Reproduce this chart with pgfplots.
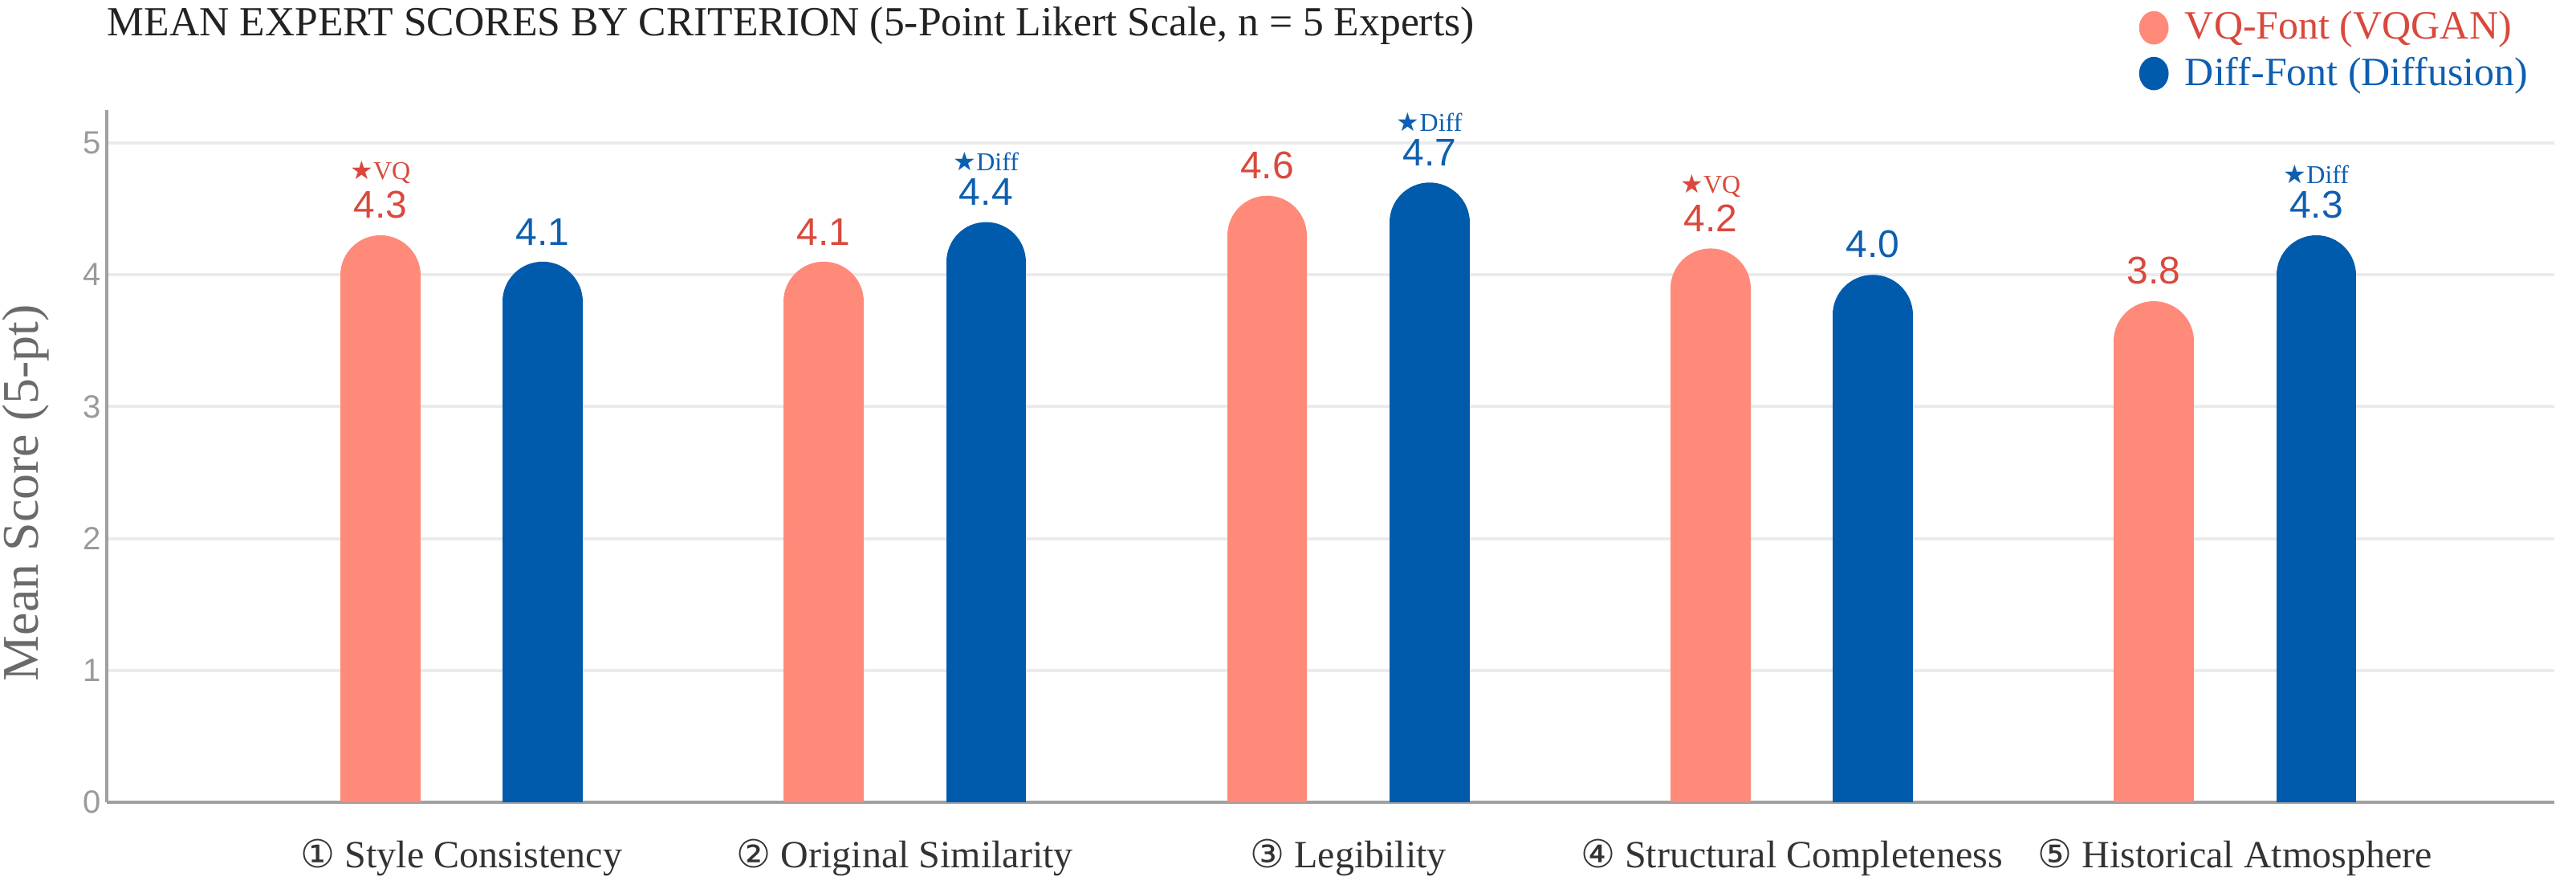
\documentclass[border=0pt]{standalone}
\usepackage{fontspec}
\setmainfont{Liberation Serif}
\newfontfamily\numfont{Liberation Sans}
\newfontfamily\symfont{DejaVu Sans}
\usepackage{pgfplots}
\pgfplotsset{compat=1.18}
\usepackage{pgfplotstable}

\definecolor{vqbar}{HTML}{FF8A7A}
\definecolor{diffbar}{HTML}{005BAC}
\definecolor{vqtext}{HTML}{D9493D}
\definecolor{difftext}{HTML}{0E5FB0}
\definecolor{gridgray}{HTML}{EBEBEB}
\definecolor{axisgray}{HTML}{A0A0A0}
\definecolor{tickgray}{HTML}{9A9A9A}
\definecolor{ylabgray}{HTML}{6A6A6A}
\definecolor{labelgray}{HTML}{333333}
\definecolor{titlegray}{HTML}{222222}

% mean expert scores per criterion
\pgfplotstableread{
x vq diff
0 4.3 4.1
1 4.1 4.4
2 4.6 4.7
3 4.2 4.0
4 3.8 4.3
}\scores

\newcommand{\circled}[1]{{\symfont #1}}

\pgfplotsset{
  % bars: one thick stroke per value with a round cap; the stroke is lowered
  % by half its width, so the cap ends exactly at the value and the lower cap
  % falls outside the clipped plot area
  round bar/.style={ycomb, draw=#1, line width=24.9pt, line cap=round,
    yshift=-12.45pt, forget plot},
  dot legend/.style={legend image code/.code={%
    \fill[#1] (0pt,0pt) ellipse (4.4pt and 5pt);
    \path (-4.4pt,0pt) (7.5pt,0pt);}},
  value label/.style={draw=none, mark=none, forget plot,
    nodes near coords={\pgfmathprintnumber[fixed,fixed zerofill,precision=1]{\pgfplotspointmeta}},
    nodes near coords style={text=#1, font=\numfont\fontsize{12}{13}\selectfont,
      anchor=south, inner sep=1pt, yshift=4pt}},
  star label/.style 2 args={draw=none, mark=none, forget plot,
    nodes near coords={{\symfont ★}#2},
    nodes near coords style={text=#1, font=\fontsize{8}{9}\selectfont,
      anchor=south, inner sep=1pt, yshift=14.8pt}},
}

\begin{document}
\begin{tikzpicture}
\useasboundingbox (-33.25pt,-28.25pt) rectangle (769pt,249.75pt);
\begin{axis}[
  at={(0,0)}, anchor=south west,
  scale only axis, width=762.25pt, height=215.5pt,
  xmin=-0.8, xmax=4.72, ymin=0, ymax=5.25,
  xtick={0,1,2,3,4},
  xticklabels={\circled{①} Style Consistency, \circled{②} Original Similarity, \circled{③} Legibility, \circled{④} Structural Completeness, \circled{⑤} Historical Atmosphere},
  ytick={0,1,2,3,4,5},
  major tick length=0pt,
  axis x line*=bottom, axis y line*=left,
  axis line style={axisgray, line width=1.1pt, -},
  ymajorgrids, grid style={gridgray, line width=1pt},
  /pgf/number format/assume math mode=true,
  yticklabel style={text=tickgray, font=\numfont\fontsize{10}{12}\selectfont, inner sep=1.5pt},
  xticklabel style={text=labelgray, font=\fontsize{12}{14}\selectfont, yshift=-8pt},
  ylabel={Mean Score (5-pt)},
  ylabel style={text=ylabgray, font=\fontsize{16}{18}\selectfont,
    at={(axis description cs:-0.033,0.447)}, anchor=center},
  title={MEAN EXPERT SCORES BY CRITERION (5-Point Likert Scale, n = 5 Experts)},
  title style={at={(0,1)}, anchor=base west, yshift=17pt, inner sep=0pt, text=titlegray,
    font=\fontsize{12.9}{15}\selectfont},
  legend style={at={(1,1)}, anchor=south east, xshift=-4pt, yshift=2pt,
    draw=none, fill=none, font=\fontsize{12.5}{14}\selectfont, row sep=0pt,
    inner sep=2pt, cells={anchor=west}},
]
\addlegendimage{dot legend=vqbar}
\addlegendentry{\textcolor{vqtext}{VQ-Font (VQGAN)}}
\addlegendimage{dot legend=diffbar}
\addlegendentry{\textcolor{difftext}{Diff-Font (Diffusion)}}

% VQ-Font and Diff-Font bars, side by side around each criterion
\addplot[round bar=vqbar] table[x expr=\thisrow{x}-0.183, y=vq]{\scores};
\addplot[round bar=diffbar] table[x expr=\thisrow{x}+0.183, y=diff]{\scores};

% score labels
\addplot[value label=vqtext] table[x expr=\thisrow{x}-0.183, y=vq]{\scores};
\addplot[value label=difftext] table[x expr=\thisrow{x}+0.183, y=diff]{\scores};

% star tags on the higher score of each criterion
\addplot[star label={vqtext}{VQ},
  restrict expr to domain={\thisrow{vq}-\thisrow{diff}}{0.001:10}]
  table[x expr=\thisrow{x}-0.183, y=vq]{\scores};
\addplot[star label={difftext}{Diff},
  restrict expr to domain={\thisrow{diff}-\thisrow{vq}}{0.001:10}]
  table[x expr=\thisrow{x}+0.183, y=diff]{\scores};
\end{axis}
\end{tikzpicture}
\end{document}
